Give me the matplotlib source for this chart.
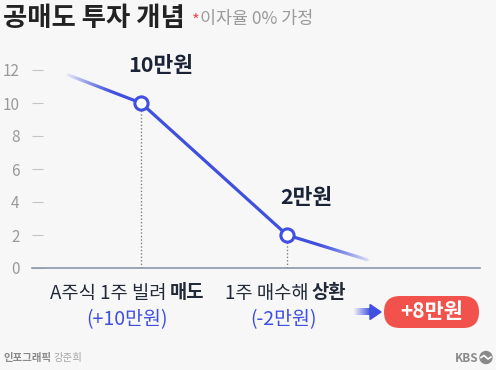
import numpy as np
import matplotlib.pyplot as plt
from matplotlib.patches import FancyBboxPatch, Polygon, Circle

plt.rcParams['font.family'] = ['Noto Sans CJK KR', 'DejaVu Sans']

# data
line_x = [0.5, 1, 2, 2.55]
line_y = [11.7, 10, 2, 0.5]
point_x = [1, 2]
point_y = [10, 2]
point_labels = ['10만원', '2만원']
yticks = [0, 2, 4, 6, 8, 10, 12]

bg = '#f7f7f8'
blue = '#3f4fe0'

fig = plt.figure(figsize=(4.96, 3.70), dpi=100, facecolor=bg)

# overlay in pixel coords for titles, notes, badge
ov = fig.add_axes([0, 0, 1, 1])
ov.axis('off')

ax = fig.add_axes([32 / 496, 102 / 370, 448 / 496, 214.5 / 370])
ax.set_facecolor(bg)
ax.set_xlim(0.253, 3.322)
ax.set_ylim(0, 13)
for s in ['top', 'right', 'left']:
    ax.spines[s].set_visible(False)
ax.spines['bottom'].set_color('#8c97a8')
ax.spines['bottom'].set_linewidth(1.2)
ax.set_xticks([])
ax.set_yticks(yticks)
ax.tick_params(axis='y', direction='in', length=8, width=0.8, color='#c4c4c4',
               labelcolor='#9a9a9a', labelsize=11, pad=9)

ax.plot(line_x, line_y, color=blue, lw=2.3, solid_capstyle='round', zorder=3)

# fade the two open ends of the line into the background
bg_rgb = np.array(plt.matplotlib.colors.to_rgb(bg))
ramp = np.zeros((2, 64, 4))
ramp[..., :3] = bg_rgb
ramp[..., 3] = np.linspace(1, 0, 64) ** 1.3
ax.imshow(ramp, extent=(0.47, 0.82, 10.2, 12.1), aspect='auto', zorder=4)
ax.imshow(ramp[:, ::-1], extent=(2.2, 2.6, 0.25, 1.9), aspect='auto', zorder=4)

for x, y in zip(point_x, point_y):
    ax.plot([x, x], [0, y], color='#7a7f8a', lw=1, ls=(0, (1, 1.5)), zorder=2)
ax.plot(point_x, point_y, 'o', ms=9.5, mfc='white', mec=blue, mew=2.2, zorder=5)

for x, y, t in zip(point_x, point_y, point_labels):
    ax.annotate(t, (x, y), xytext=(14, 27), textcoords='offset points',
                ha='center', va='center', fontsize=15.5, fontweight='bold',
                color='#1b2436')

# arrow to result badge
tail = np.zeros((1, 32, 4))
tail[..., :3] = plt.matplotlib.colors.to_rgb(blue)
tail[..., 3] = np.linspace(0.05, 1, 32)
ov.imshow(tail, extent=(354, 371, 315.5, 308.5), aspect='auto', zorder=3)
ov.add_patch(Polygon([[370, 304.5], [381, 312], [370, 319.5]], closed=True,
                     color=blue, zorder=3))
ov.set_xlim(0, 496)
ov.set_ylim(370, 0)

# title
ov.text(3, 18, '공매도 투자 개념', fontsize=19, fontweight='bold', color='#222222',
        va='center', ha='left')
ov.text(192, 21, '*', fontsize=12, color='#e8504c', va='center', ha='left')
ov.text(200, 19, '이자율 0% 가정', fontsize=12.5, color='#9a9a9a', va='center', ha='left')

# bottom labels
dark = '#222a38'
ov.text(167, 293, 'A주식 1주 빌려', fontsize=13.5, color=dark, ha='right', va='center')
ov.text(170, 293, '매도', fontsize=13.5, color=dark, ha='left', va='center', fontweight='bold')
ov.text(127, 320, '(+10만원)', fontsize=14, color=blue, ha='center', va='center')
ov.text(309, 293, '1주 매수해', fontsize=13.5, color=dark, ha='right', va='center')
ov.text(312, 293, '상환', fontsize=13.5, color=dark, ha='left', va='center', fontweight='bold')
ov.text(284, 320, '(-2만원)', fontsize=14, color=blue, ha='center', va='center')

ov.add_patch(FancyBboxPatch((384, 296), 95, 32, boxstyle='round,pad=0,rounding_size=16',
                            fc='#f2524c', ec='none', zorder=3))
ov.text(431.5, 312, '+8만원', fontsize=15, color='white', fontweight='bold',
        ha='center', va='center', zorder=4)

# footer
ov.text(3, 358, '인포그래픽', fontsize=7.5, color='#8a8a8a', fontweight='bold',
        ha='left', va='center')
ov.text(54, 358, '강준희', fontsize=7.5, color='#a8a8a8', ha='left', va='center')
ov.text(478, 358, 'KBS', fontsize=8.5, color='#8a8a8a', fontweight='bold',
        ha='right', va='center')
ov.add_patch(Circle((486, 357.5), 6, color='#8a8a8a', zorder=3))
ov.plot([481, 484, 488, 491], [357.5, 355.5, 359, 357], color='white', lw=1.2, zorder=4)

fig.savefig('out.png', dpi=100, facecolor=bg)
